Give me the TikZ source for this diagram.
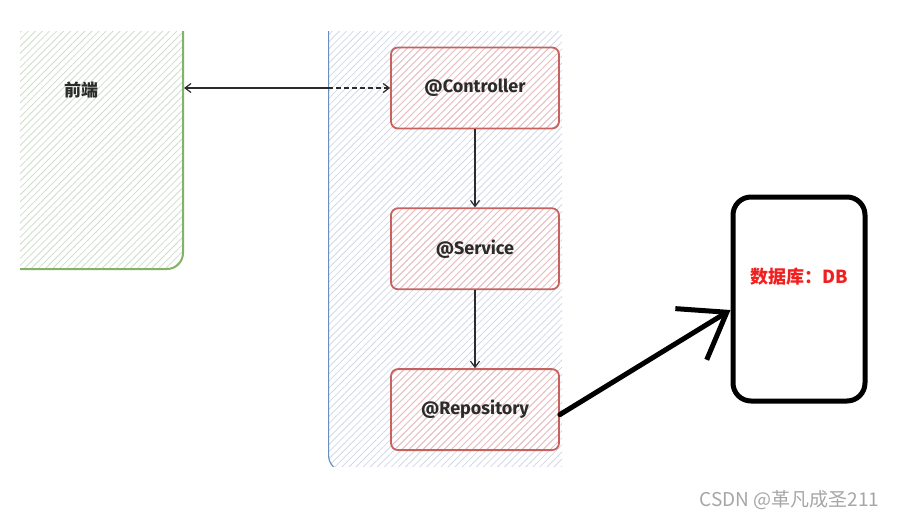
\documentclass[tikz,border=0pt]{standalone}
\usepackage{fontspec}
\setmainfont{Fira Sans}
\newfontfamily\cjk{Noto Sans CJK SC}
\usetikzlibrary{positioning,arrows.meta,patterns.meta}
\definecolor{grnline}{HTML}{82B366}
\definecolor{bluline}{HTML}{6C8EBF}
\definecolor{redline}{HTML}{C8625E}
\definecolor{grnhatch}{RGB}{205,222,200}
\definecolor{bluhatch}{RGB}{208,216,232}
\definecolor{redhatch}{RGB}{238,188,188}
\definecolor{ink}{HTML}{2B2B2B}
\definecolor{dbred}{HTML}{F02020}

\begin{document}
\begin{tikzpicture}[x=1pt, y=-1pt, node distance={78pt}, thick,
    main/.style = {draw=redline, line width=1.8pt, rounded corners=7pt, minimum width=168pt, minimum height=81pt,
      pattern={Lines[angle=45,distance=5pt,line width=0.8pt]}, pattern color=redhatch,
      font=\bfseries\fontsize{18}{20}\selectfont, text=ink},
    frame/.style = {rounded corners=16pt, pattern={Lines[angle=45,distance=5pt,line width=0.8pt]}},
    link/.style = {draw=ink, line width=1.2pt},
    arr/.style = {-{Straight Barb[length=6pt,width=9pt]}}]
          \useasboundingbox (0,0) rectangle (898,519);
          % Define nodes
          \begin{scope}
            \clip (20,32) rectangle (562,466);
            \node[frame, draw=grnline, line width=2pt, pattern color=grnhatch, minimum width=224pt, minimum height=290pt, anchor=south east] (front) at (184,270) {};
            \node[frame, draw=bluline, line width=1.2pt, pattern color=bluhatch, minimum width=300pt, minimum height=500pt, anchor=south west] (back) at (328,472) {};
          \end{scope}
          \node[font=\cjk\bfseries\fontsize{17}{19}\selectfont, text=ink] (fronttext) at (81,90) {前端};
          \node[main] (ctrl) at (475,88) {@Controller};
          \node[main] (svc) [below=of ctrl] {@Service};
          \node[main] (repo) [below=of svc] {@Repository};
          \node[draw, line width=5pt, rounded corners=18pt, minimum width=132pt, minimum height=204pt] (db) at (799,299) {};
          \node[font=\cjk\bfseries\fontsize{18}{20}\selectfont, text=dbred] (dbtext) at ([yshift=22pt]db.center) {数据库：DB};
          \node[font=\cjk\fontsize{19}{21}\selectfont, text=gray!70, anchor=east] (mark) at (883,500) {CSDN @革凡成圣211};
          % Add edges
          \coordinate (split) at (back.west |- ctrl.west);
          \draw[link, {Straight Barb[length=6pt,width=9pt]}-] (front.east |- ctrl.west) -- (split);
          \draw[link, arr, dash pattern=on 5pt off 3pt] (split) -- (ctrl.west);
          \draw[link, arr] (ctrl) -- (svc);
          \draw[link, arr] (svc) -- (repo);
          \draw[line width=5pt, line cap=round, -{Straight Barb[length=42pt,width=60pt]}] ([yshift=-5pt]repo.east) -- ([yshift=-11pt]db.west);
        \end{tikzpicture}
\end{document}
